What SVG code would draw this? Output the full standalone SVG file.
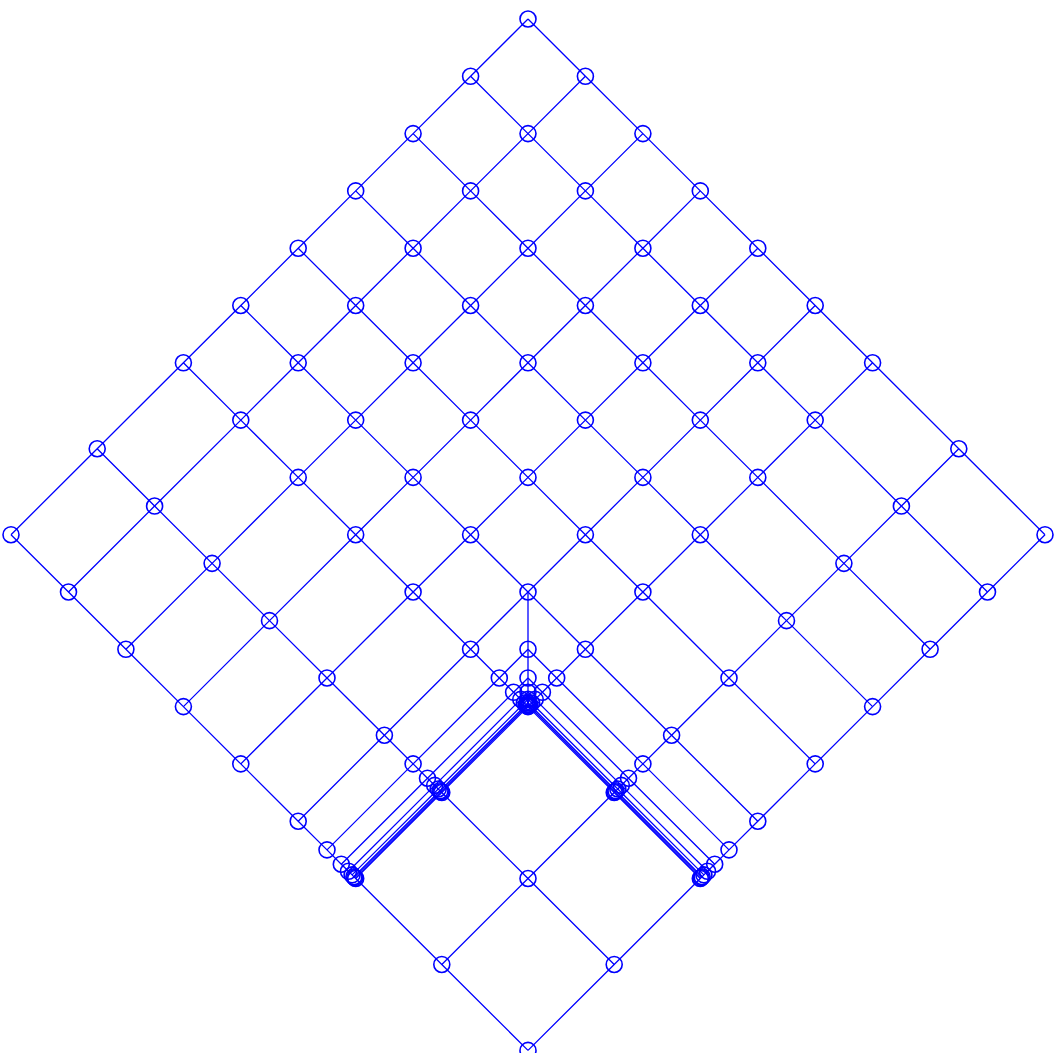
<svg xmlns="http://www.w3.org/2000/svg" width="1058" height="1053" viewBox="0 0 1058 1053">
<style>
.e path{fill:none;stroke:#0000ff;stroke-width:1.3}
.n circle{fill:none;stroke:#0000ff;stroke-width:1.6}
</style>
<rect width="1058" height="1053" fill="#ffffff"/>
<g class="e" id="connectors" fill="none" stroke="#0000ff" stroke-width="1.3">
<path d="M528,19L470.6,76.3L413.1,133.6L355.7,190.9L298.2,248.2L240.8,305.5L183.4,362.8L97.2,448.75L11,534.7"/>
<path d="M585.4,76.3L528,133.6L470.6,190.9L413.1,248.2L355.7,305.5L298.2,362.8L240.8,420.1L154.6,506.05L68.5,592"/>
<path d="M642.9,133.6L585.4,190.9L528,248.2L470.6,305.5L413.1,362.8L355.7,420.1L298.2,477.4L212.1,563.35L125.9,649.3"/>
<path d="M700.3,190.9L642.9,248.2L585.4,305.5L528,362.8L470.6,420.1L413.1,477.4L355.7,534.7L269.5,620.65L183.4,706.6"/>
<path d="M757.8,248.2L700.3,305.5L642.9,362.8L585.4,420.1L528,477.4L470.6,534.7L413.1,592L327,677.95L240.8,763.9"/>
<path d="M815.2,305.5L757.8,362.8L700.3,420.1L642.9,477.4L585.4,534.7L528,592L470.6,649.3L384.4,735.25L298.2,821.2"/>
<path d="M872.6,362.8L815.2,420.1L757.8,477.4L700.3,534.7L642.9,592L585.4,649.3L556.7,677.95L542.4,692.3L535.2,699.4L531.6,703L529.8,704.8L528.9,705.7L528,706.6L441.8,792.55L355.7,878.5"/>
<path d="M958.8,448.75L901.4,506.05L843.9,563.35L786.5,620.65L729,677.95L671.6,735.25L642.9,763.9L628.5,778.2L621.3,785.4L617.8,789L616,790.8L615.1,791.7L614.2,792.55L528,878.5L441.8,964.45"/>
<path d="M1045,534.7L987.5,592L930.1,649.3L872.6,706.6L815.2,763.9L757.8,821.2L729,849.85L714.7,864.2L707.5,871.3L703.9,874.9L702.1,876.7L701.2,877.6L700.3,878.5L614.2,964.45L528,1050.4"/>
<path d="M528,649.3L499.3,677.95L413.1,763.9L327,849.85"/>
<path d="M528,677.95L513.6,692.3L427.5,778.2L341.3,864.2"/>
<path d="M528,692.3L520.8,699.4L434.7,785.4L348.5,871.3"/>
<path d="M528,699.4L524.4,703L438.2,789L352.1,874.9"/>
<path d="M528,703L526.2,704.8L440,790.8L353.9,876.7"/>
<path d="M528,704.8L527.1,705.7L440.9,791.7L354.8,877.6"/>
<path d="M528,19L585.4,76.3L642.9,133.6L700.3,190.9L757.8,248.2L815.2,305.5L872.6,362.8L958.8,448.75L1045,534.7"/>
<path d="M470.6,76.3L528,133.6L585.4,190.9L642.9,248.2L700.3,305.5L757.8,362.8L815.2,420.1L901.4,506.05L987.5,592"/>
<path d="M413.1,133.6L470.6,190.9L528,248.2L585.4,305.5L642.9,362.8L700.3,420.1L757.8,477.4L843.9,563.35L930.1,649.3"/>
<path d="M355.7,190.9L413.1,248.2L470.6,305.5L528,362.8L585.4,420.1L642.9,477.4L700.3,534.7L786.5,620.65L872.6,706.6"/>
<path d="M298.2,248.2L355.7,305.5L413.1,362.8L470.6,420.1L528,477.4L585.4,534.7L642.9,592L729,677.95L815.2,763.9"/>
<path d="M240.8,305.5L298.2,362.8L355.7,420.1L413.1,477.4L470.6,534.7L528,592L585.4,649.3L671.6,735.25L757.8,821.2"/>
<path d="M183.4,362.8L240.8,420.1L298.2,477.4L355.7,534.7L413.1,592L470.6,649.3L499.3,677.95L513.6,692.3L520.8,699.4L524.4,703L526.2,704.8L527.1,705.7L528,706.6L614.2,792.55L700.3,878.5"/>
<path d="M97.2,448.75L154.6,506.05L212.1,563.35L269.5,620.65L327,677.95L384.4,735.25L413.1,763.9L427.5,778.2L434.7,785.4L438.2,789L440,790.8L440.9,791.7L441.8,792.55L528,878.5L614.2,964.45"/>
<path d="M11,534.7L68.5,592L125.9,649.3L183.4,706.6L240.8,763.9L298.2,821.2L327,849.85L341.3,864.2L348.5,871.3L352.1,874.9L353.9,876.7L354.8,877.6L355.7,878.5L441.8,964.45L528,1050.4"/>
<path d="M528,649.3L556.7,677.95L642.9,763.9L729,849.85"/>
<path d="M528,677.95L542.4,692.3L628.5,778.2L714.7,864.2"/>
<path d="M528,692.3L535.2,699.4L621.3,785.4L707.5,871.3"/>
<path d="M528,699.4L531.6,703L617.8,789L703.9,874.9"/>
<path d="M528,703L529.8,704.8L616,790.8L702.1,876.7"/>
<path d="M528,704.8L528.9,705.7L615.1,791.7L701.2,877.6"/>
<path d="M528,592L528,649.3L528,677.95L528,692.3L528,699.4L528,703L528,704.8L528,706.6"/>
</g>
<g class="n" id="nodes" fill="none" stroke="#0000ff" stroke-width="1.6">
<g id="n-0-0"><circle cx="528" cy="19" r="8"/></g>
<g id="n-0-1"><circle cx="585.4" cy="76.3" r="8"/></g>
<g id="n-0-2"><circle cx="642.9" cy="133.6" r="8"/></g>
<g id="n-0-3"><circle cx="700.3" cy="190.9" r="8"/></g>
<g id="n-0-4"><circle cx="757.8" cy="248.2" r="8"/></g>
<g id="n-0-5"><circle cx="815.2" cy="305.5" r="8"/></g>
<g id="n-0-6"><circle cx="872.6" cy="362.8" r="8"/></g>
<g id="n-0-7h"><circle cx="958.8" cy="448.75" r="8"/></g>
<g id="n-0-9"><circle cx="1045" cy="534.7" r="8"/></g>
<g id="n-1-0"><circle cx="470.6" cy="76.3" r="8"/></g>
<g id="n-1-1"><circle cx="528" cy="133.6" r="8"/></g>
<g id="n-1-2"><circle cx="585.4" cy="190.9" r="8"/></g>
<g id="n-1-3"><circle cx="642.9" cy="248.2" r="8"/></g>
<g id="n-1-4"><circle cx="700.3" cy="305.5" r="8"/></g>
<g id="n-1-5"><circle cx="757.8" cy="362.8" r="8"/></g>
<g id="n-1-6"><circle cx="815.2" cy="420.1" r="8"/></g>
<g id="n-1-7h"><circle cx="901.4" cy="506.05" r="8"/></g>
<g id="n-1-9"><circle cx="987.5" cy="592" r="8"/></g>
<g id="n-2-0"><circle cx="413.1" cy="133.6" r="8"/></g>
<g id="n-2-1"><circle cx="470.6" cy="190.9" r="8"/></g>
<g id="n-2-2"><circle cx="528" cy="248.2" r="8"/></g>
<g id="n-2-3"><circle cx="585.4" cy="305.5" r="8"/></g>
<g id="n-2-4"><circle cx="642.9" cy="362.8" r="8"/></g>
<g id="n-2-5"><circle cx="700.3" cy="420.1" r="8"/></g>
<g id="n-2-6"><circle cx="757.8" cy="477.4" r="8"/></g>
<g id="n-2-7h"><circle cx="843.9" cy="563.35" r="8"/></g>
<g id="n-2-9"><circle cx="930.1" cy="649.3" r="8"/></g>
<g id="n-3-0"><circle cx="355.7" cy="190.9" r="8"/></g>
<g id="n-3-1"><circle cx="413.1" cy="248.2" r="8"/></g>
<g id="n-3-2"><circle cx="470.6" cy="305.5" r="8"/></g>
<g id="n-3-3"><circle cx="528" cy="362.8" r="8"/></g>
<g id="n-3-4"><circle cx="585.4" cy="420.1" r="8"/></g>
<g id="n-3-5"><circle cx="642.9" cy="477.4" r="8"/></g>
<g id="n-3-6"><circle cx="700.3" cy="534.7" r="8"/></g>
<g id="n-3-7h"><circle cx="786.5" cy="620.65" r="8"/></g>
<g id="n-3-9"><circle cx="872.6" cy="706.6" r="8"/></g>
<g id="n-4-0"><circle cx="298.2" cy="248.2" r="8"/></g>
<g id="n-4-1"><circle cx="355.7" cy="305.5" r="8"/></g>
<g id="n-4-2"><circle cx="413.1" cy="362.8" r="8"/></g>
<g id="n-4-3"><circle cx="470.6" cy="420.1" r="8"/></g>
<g id="n-4-4"><circle cx="528" cy="477.4" r="8"/></g>
<g id="n-4-5"><circle cx="585.4" cy="534.7" r="8"/></g>
<g id="n-4-6"><circle cx="642.9" cy="592" r="8"/></g>
<g id="n-4-7h"><circle cx="729" cy="677.95" r="8"/></g>
<g id="n-4-9"><circle cx="815.2" cy="763.9" r="8"/></g>
<g id="n-5-0"><circle cx="240.8" cy="305.5" r="8"/></g>
<g id="n-5-1"><circle cx="298.2" cy="362.8" r="8"/></g>
<g id="n-5-2"><circle cx="355.7" cy="420.1" r="8"/></g>
<g id="n-5-3"><circle cx="413.1" cy="477.4" r="8"/></g>
<g id="n-5-4"><circle cx="470.6" cy="534.7" r="8"/></g>
<g id="n-5-5"><circle cx="528" cy="592" r="8"/></g>
<g id="n-5-6"><circle cx="585.4" cy="649.3" r="8"/></g>
<g id="n-5-7h"><circle cx="671.6" cy="735.25" r="8"/></g>
<g id="n-5-9"><circle cx="757.8" cy="821.2" r="8"/></g>
<g id="n-6-0"><circle cx="183.4" cy="362.8" r="8"/></g>
<g id="n-6-1"><circle cx="240.8" cy="420.1" r="8"/></g>
<g id="n-6-2"><circle cx="298.2" cy="477.4" r="8"/></g>
<g id="n-6-3"><circle cx="355.7" cy="534.7" r="8"/></g>
<g id="n-6-4"><circle cx="413.1" cy="592" r="8"/></g>
<g id="n-6-5"><circle cx="470.6" cy="649.3" r="8"/></g>
<g id="n-6-6"><circle cx="528" cy="706.6" r="8"/></g>
<g id="n-6-7h"><circle cx="614.2" cy="792.55" r="8"/></g>
<g id="n-6-9"><circle cx="700.3" cy="878.5" r="8"/></g>
<g id="n-7h-0"><circle cx="97.2" cy="448.75" r="8"/></g>
<g id="n-7h-1"><circle cx="154.6" cy="506.05" r="8"/></g>
<g id="n-7h-2"><circle cx="212.1" cy="563.35" r="8"/></g>
<g id="n-7h-3"><circle cx="269.5" cy="620.65" r="8"/></g>
<g id="n-7h-4"><circle cx="327" cy="677.95" r="8"/></g>
<g id="n-7h-5"><circle cx="384.4" cy="735.25" r="8"/></g>
<g id="n-7h-6"><circle cx="441.8" cy="792.55" r="8"/></g>
<g id="n-7h-7h"><circle cx="528" cy="878.5" r="8"/></g>
<g id="n-7h-9"><circle cx="614.2" cy="964.45" r="8"/></g>
<g id="n-9-0"><circle cx="11" cy="534.7" r="8"/></g>
<g id="n-9-1"><circle cx="68.5" cy="592" r="8"/></g>
<g id="n-9-2"><circle cx="125.9" cy="649.3" r="8"/></g>
<g id="n-9-3"><circle cx="183.4" cy="706.6" r="8"/></g>
<g id="n-9-4"><circle cx="240.8" cy="763.9" r="8"/></g>
<g id="n-9-5"><circle cx="298.2" cy="821.2" r="8"/></g>
<g id="n-9-6"><circle cx="355.7" cy="878.5" r="8"/></g>
<g id="n-9-7h"><circle cx="441.8" cy="964.45" r="8"/></g>
<g id="n-9-9"><circle cx="528" cy="1050.4" r="8"/></g>
<g id="n-f1-f1"><circle cx="528" cy="649.3" r="8"/></g>
<g id="n-f2-f2"><circle cx="528" cy="677.95" r="8"/></g>
<g id="n-f3-f3"><circle cx="528" cy="692.3" r="8"/></g>
<g id="n-f4-f4"><circle cx="528" cy="699.4" r="8"/></g>
<g id="n-f5-f5"><circle cx="528" cy="703" r="8"/></g>
<g id="n-f6-f6"><circle cx="528" cy="704.8" r="8"/></g>
<g id="n-f1-6"><circle cx="556.7" cy="677.95" r="8"/></g>
<g id="n-f2-6"><circle cx="542.4" cy="692.3" r="8"/></g>
<g id="n-f3-6"><circle cx="535.2" cy="699.4" r="8"/></g>
<g id="n-f4-6"><circle cx="531.6" cy="703" r="8"/></g>
<g id="n-f5-6"><circle cx="529.8" cy="704.8" r="8"/></g>
<g id="n-f6-6"><circle cx="528.9" cy="705.7" r="8"/></g>
<g id="n-6-f1"><circle cx="499.3" cy="677.95" r="8"/></g>
<g id="n-6-f2"><circle cx="513.6" cy="692.3" r="8"/></g>
<g id="n-6-f3"><circle cx="520.8" cy="699.4" r="8"/></g>
<g id="n-6-f4"><circle cx="524.4" cy="703" r="8"/></g>
<g id="n-6-f5"><circle cx="526.2" cy="704.8" r="8"/></g>
<g id="n-6-f6"><circle cx="527.1" cy="705.7" r="8"/></g>
<g id="n-f1-7h"><circle cx="642.9" cy="763.9" r="8"/></g>
<g id="n-f2-7h"><circle cx="628.5" cy="778.2" r="8"/></g>
<g id="n-f3-7h"><circle cx="621.3" cy="785.4" r="8"/></g>
<g id="n-f4-7h"><circle cx="617.8" cy="789" r="8"/></g>
<g id="n-f5-7h"><circle cx="616" cy="790.8" r="8"/></g>
<g id="n-f6-7h"><circle cx="615.1" cy="791.7" r="8"/></g>
<g id="n-7h-f1"><circle cx="413.1" cy="763.9" r="8"/></g>
<g id="n-7h-f2"><circle cx="427.5" cy="778.2" r="8"/></g>
<g id="n-7h-f3"><circle cx="434.7" cy="785.4" r="8"/></g>
<g id="n-7h-f4"><circle cx="438.2" cy="789" r="8"/></g>
<g id="n-7h-f5"><circle cx="440" cy="790.8" r="8"/></g>
<g id="n-7h-f6"><circle cx="440.9" cy="791.7" r="8"/></g>
<g id="n-f1-9"><circle cx="729" cy="849.85" r="8"/></g>
<g id="n-f2-9"><circle cx="714.7" cy="864.2" r="8"/></g>
<g id="n-f3-9"><circle cx="707.5" cy="871.3" r="8"/></g>
<g id="n-f4-9"><circle cx="703.9" cy="874.9" r="8"/></g>
<g id="n-f5-9"><circle cx="702.1" cy="876.7" r="8"/></g>
<g id="n-f6-9"><circle cx="701.2" cy="877.6" r="8"/></g>
<g id="n-9-f1"><circle cx="327" cy="849.85" r="8"/></g>
<g id="n-9-f2"><circle cx="341.3" cy="864.2" r="8"/></g>
<g id="n-9-f3"><circle cx="348.5" cy="871.3" r="8"/></g>
<g id="n-9-f4"><circle cx="352.1" cy="874.9" r="8"/></g>
<g id="n-9-f5"><circle cx="353.9" cy="876.7" r="8"/></g>
<g id="n-9-f6"><circle cx="354.8" cy="877.6" r="8"/></g>
</g>
</svg>
